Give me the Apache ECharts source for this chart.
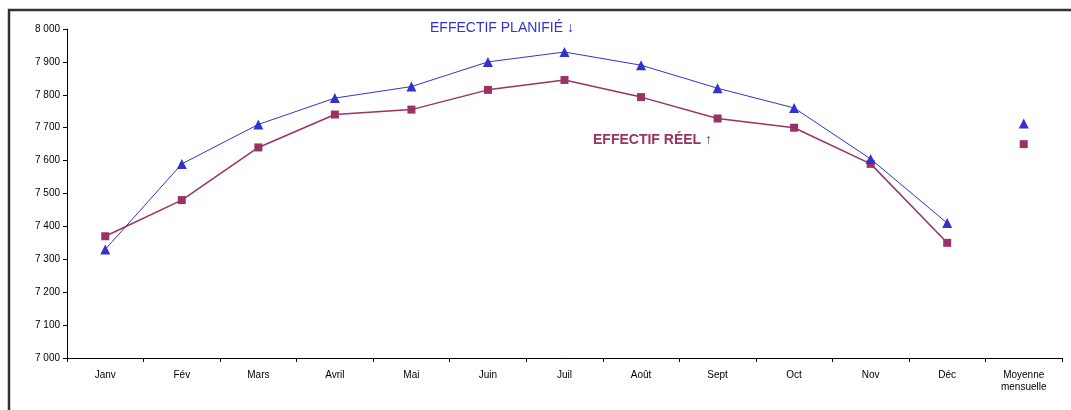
<!DOCTYPE html>
<html><head><meta charset="utf-8">
<script src="https://cdn.jsdelivr.net/npm/echarts@6/dist/echarts.min.js"></script>
<style>html,body{margin:0;padding:0;background:#fff}#c{width:1071px;height:410px}</style>
</head><body><div id="c"></div>
<script>
const categories = ['Janv','Fév','Mars','Avril','Mai','Juin','Juil','Août','Sept','Oct','Nov','Déc','Moyenne\nmensuelle'];
const planned = [7330,7590,7710,7790,7825,7900,7930,7890,7820,7760,7605,7410];
const actual  = [7370,7480,7640,7740,7755,7815,7845,7793,7728,7700,7590,7350];
const plannedAvg = 7713;
const actualAvg = 7650;
const yTicks = {min:7000, max:8000, interval:100};

const BLUE = '#3333CC', PURPLE = '#993366';
const chart = echarts.init(document.getElementById('c'));
const avgIdx = categories.length - 1;
chart.setOption({
  animation:false,
  textStyle:{fontFamily:'Liberation Sans, Arial, sans-serif'},
  grid:{left:67, top:29, right:9, bottom:52},
  xAxis:{type:'category', data:categories, boundaryGap:true,
    axisLine:{lineStyle:{color:'#000', width:1}},
    axisTick:{show:true, length:4, alignWithLabel:false, lineStyle:{color:'#000'}},
    axisLabel:{color:'#000', fontSize:10, margin:11, interval:0, lineHeight:12}},
  yAxis:{type:'value', min:yTicks.min, max:yTicks.max, interval:yTicks.interval,
    axisLine:{show:true, lineStyle:{color:'#000', width:1}},
    axisTick:{show:true, length:4, lineStyle:{color:'#000'}},
    splitLine:{show:false},
    axisLabel:{color:'#000', fontSize:10, margin:7,
      formatter:v => String(v).replace(/\B(?=(\d{3})+(?!\d))/g,' ')}},
  graphic:[
    {type:'polyline', shape:{points:[[9,410],[9,10],[1071,10]]}, style:{stroke:'#333', lineWidth:2.5, fill:null}},
    {type:'text', left:430, top:21, style:{text:'EFFECTIF PLANIFIÉ ↓', fill:BLUE, font:'14px "Liberation Sans", Arial, sans-serif'}},
    {type:'text', left:593, top:133, style:{text:'EFFECTIF RÉEL ↑', fill:PURPLE, font:'bold 14px "Liberation Sans", Arial, sans-serif'}}
  ],
  series:[
    {type:'line', data:planned, symbol:'triangle', symbolSize:10, z:3,
      itemStyle:{color:BLUE}, lineStyle:{color:BLUE, width:1}},
    {type:'line', data:actual, symbol:'rect', symbolSize:8, z:2,
      itemStyle:{color:PURPLE}, lineStyle:{color:PURPLE, width:1.5}},
    {type:'scatter', data:[[avgIdx, plannedAvg]], symbol:'triangle', symbolSize:10, itemStyle:{color:BLUE, opacity:1}},
    {type:'scatter', data:[[avgIdx, actualAvg]], symbol:'rect', symbolSize:8, itemStyle:{color:PURPLE, opacity:1}}
  ]
});
</script></body></html>
